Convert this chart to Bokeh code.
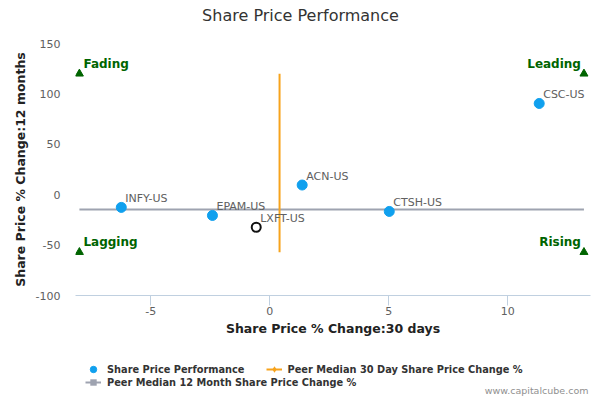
from bokeh.plotting import figure
from bokeh.layouts import column
from bokeh.models import (Range1d, FixedTicker, Legend, LegendItem, ColumnDataSource, Label)
from bokeh.core.properties import value
from bokeh.embed import file_html
from bokeh.resources import INLINE

# ---- data ----
peer_tickers = ["ACN-US", "CSC-US", "CTSH-US", "EPAM-US", "INFY-US"]
peer_change_30d = [1.36, 11.32, 5.02, -2.41, -6.24]
peer_change_12m = [9.6, 90.5, -16.6, -20.6, -12.6]
focus_ticker = ["LXFT-US"]
focus_change_30d = [-0.57]
focus_change_12m = [-32.3]
median_30d = 0.41
median_12m = -14.6
median_30d_span = [-57, 120]     # vertical extent of the 30-day median line
median_12m_span = [-8, 13.2]     # horizontal extent of the 12-month median line
quadrant_names = ["Fading", "Leading", "Lagging", "Rising"]
quadrant_x = [-8, 13.2, -8, 13.2]
quadrant_y = [120, 120, -57, -57]
x_ticks = [-5, 0, 5, 10]
y_ticks = [-100, -50, 0, 50, 100, 150]

FONT = "DejaVu Sans"
BLUE = "#10A0EE"
ORANGE = "#F7A31C"
GRAY = "#9EA3B0"
GREEN = "#006400"


def blank_fig(h, y_range):
    f = figure(width=600, height=h, output_backend="svg", toolbar_location=None,
               x_range=Range1d(0, 1), y_range=y_range, min_border=0, title=None,
               x_axis_location=None, y_axis_location=None)
    f.outline_line_color = None
    f.grid.visible = False
    f.background_fill_color = "white"
    f.border_fill_color = "white"
    return f


# ---- title strip (its plot area is aligned with the main chart's, which starts 75px in) ----
figT = blank_fig(35, Range1d(0, 1))
figT.add_layout(Label(x=225, y=20, x_units="screen", y_units="screen", text="Share Price Performance",
                      text_align="center", text_baseline="alphabetic", text_font=FONT,
                      text_font_size="16px", text_color="#333333"))

# ---- main chart ----
p = figure(width=600, height=320, output_backend="svg", toolbar_location=None,
           x_range=Range1d(-8.164, 13.475), y_range=Range1d(-100, 150),
           min_border_left=75, min_border_right=10, min_border_top=8, min_border_bottom=60,
           title=None)
p.outline_line_color = None
p.xgrid.grid_line_color = None
p.ygrid.grid_line_color = None
p.background_fill_color = "white"
p.border_fill_color = "white"

h_src = ColumnDataSource(dict(x=median_12m_span, y=[median_12m] * 2))
v_src = ColumnDataSource(dict(x=[median_30d] * 2, y=median_30d_span))
pts = ColumnDataSource(dict(x=peer_change_30d, y=peer_change_12m, t=peer_tickers))
fsrc = ColumnDataSource(dict(x=focus_change_30d, y=focus_change_12m, t=focus_ticker))

p.line("x", "y", source=h_src, line_color=GRAY, line_width=2)
p.line("x", "y", source=v_src, line_color=ORANGE, line_width=2)

p.scatter(quadrant_x, quadrant_y, marker="triangle", size=8, fill_color=GREEN, line_color=GREEN)
left_i = [i for i, x in enumerate(quadrant_x) if x < 0]
right_i = [i for i, x in enumerate(quadrant_x) if x >= 0]
p.text([quadrant_x[i] for i in left_i], [quadrant_y[i] for i in left_i],
       text=[quadrant_names[i] for i in left_i], text_font=value(FONT), text_font_size="12px",
       text_font_style="bold", text_color=GREEN, text_align="left", text_baseline="alphabetic",
       x_offset=4, y_offset=-10)
p.text([quadrant_x[i] for i in right_i], [quadrant_y[i] for i in right_i],
       text=[quadrant_names[i] for i in right_i], text_font=value(FONT), text_font_size="12px",
       text_font_style="bold", text_color=GREEN, text_align="right", text_baseline="alphabetic",
       x_offset=-3, y_offset=-10)

p.scatter("x", "y", source=pts, size=10, fill_color=BLUE, line_color=BLUE, line_width=1)
p.text("x", "y", text="t", source=pts, text_font=value(FONT), text_font_size="11px",
       text_color="#606060", text_align="left", text_baseline="alphabetic", x_offset=4, y_offset=-9)
p.scatter("x", "y", source=fsrc, size=9, fill_color="white", line_color="#111111", line_width=2)
p.text("x", "y", text="t", source=fsrc, text_font=value(FONT), text_font_size="11px",
       text_color="#606060", text_align="left", text_baseline="alphabetic", x_offset=4, y_offset=-9)

xa = p.xaxis[0]
xa.ticker = FixedTicker(ticks=x_ticks)
xa.major_label_overrides = {t: str(t) for t in x_ticks}
xa.axis_line_color = "#C0D0E0"
xa.major_tick_line_color = "#C0D0E0"
xa.major_tick_out = 10
xa.major_tick_in = 0
xa.minor_tick_line_color = None
xa.minor_tick_out = 0
xa.major_label_text_font = FONT
xa.major_label_text_font_size = "11px"
xa.major_label_text_color = "#606060"
xa.major_label_standoff = 1
xa.axis_label = "Share Price % Change:30 days"
xa.axis_label_text_font = FONT
xa.axis_label_text_font_size = "12.5px"
xa.axis_label_text_font_style = "bold"
xa.axis_label_text_color = "#222222"
xa.axis_label_standoff = 3

ya = p.yaxis[0]
ya.ticker = FixedTicker(ticks=y_ticks)
ya.major_label_overrides = {t: str(t) for t in y_ticks}
ya.axis_line_color = None
ya.major_tick_line_color = None
ya.major_tick_out = 0
ya.major_tick_in = 0
ya.minor_tick_line_color = None
ya.minor_tick_out = 0
ya.major_label_text_font = FONT
ya.major_label_text_font_size = "11px"
ya.major_label_text_color = "#606060"
ya.major_label_standoff = 15
ya.axis_label = "Share Price % Change:12 months"
ya.axis_label_text_font = FONT
ya.axis_label_text_font_size = "12.5px"
ya.axis_label_text_font_style = "bold"
ya.axis_label_text_color = "#222222"
ya.axis_label_standoff = 5

# ---- legend strip (series proxies lie outside this strip's view; only their legend glyphs show) ----
figB = blank_fig(45, Range1d(1000, 1001))
l_pts = figB.scatter("x", "y", source=pts, size=10, fill_color=BLUE, line_color=BLUE)
l_v = figB.line("x", "y", source=v_src, line_color=ORANGE, line_width=2)
l_vm = figB.scatter("x", "y", source=v_src, marker="diamond", size=8, fill_color=ORANGE, line_alpha=0)
l_h = figB.line("x", "y", source=h_src, line_color=GRAY, line_width=2)
l_hm = figB.scatter("x", "y", source=h_src, marker="square", size=8, fill_color=GRAY, line_alpha=0)


def style_legend(lg):
    lg.orientation = "horizontal"
    lg.background_fill_alpha = 0
    lg.border_line_color = None
    lg.padding = 0
    lg.margin = 0
    lg.spacing = 21
    lg.glyph_width = 16
    lg.glyph_height = 22
    lg.label_height = 22
    lg.label_standoff = 6
    lg.label_text_font = FONT
    lg.label_text_font_size = "9.8px"
    lg.label_text_font_style = "bold"
    lg.label_text_color = "#333333"


lg1 = Legend(items=[LegendItem(label="Share Price Performance", renderers=[l_pts]),
                    LegendItem(label="Peer Median 30 Day Share Price Change %", renderers=[l_v, l_vm])],
             location=(10, 20))
style_legend(lg1)
lg2 = Legend(items=[LegendItem(label="Peer Median 12 Month Share Price Change %", renderers=[l_h, l_hm])],
             location=(10, 7))
style_legend(lg2)
figB.add_layout(lg1)
figB.add_layout(lg2)

figB.add_layout(Label(x=513, y=10, x_units="screen", y_units="screen", text="www.capitalcube.com",
                      text_align="right", text_baseline="middle", text_font=FONT,
                      text_font_size="9.5px", text_color="#909090"))

layout = column(figT, p, figB, spacing=0)
open("out.html", "w").write(file_html(layout, INLINE))
